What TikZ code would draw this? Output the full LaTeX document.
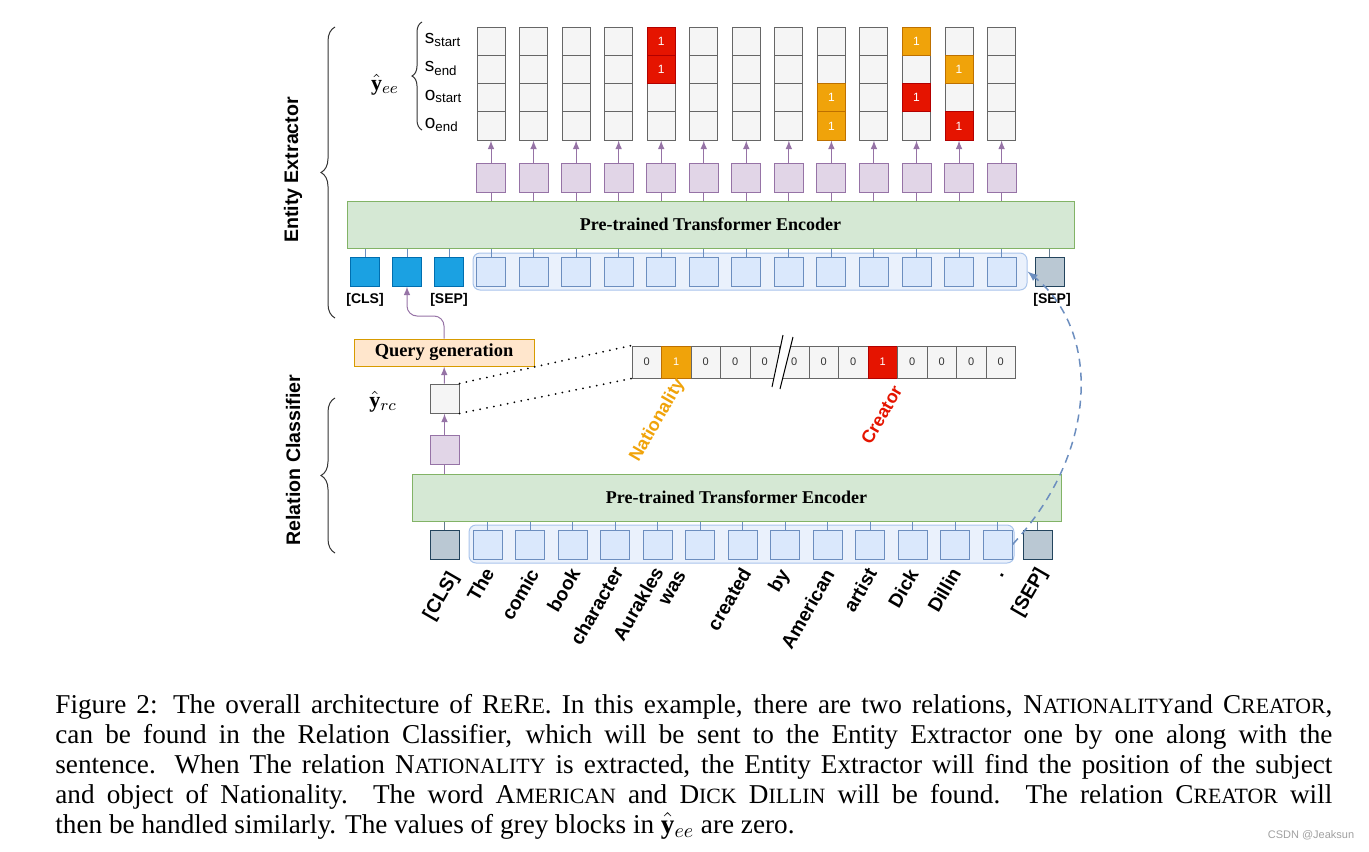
\documentclass[tikz,border=0pt]{standalone}
\usepackage{fontspec}
\setmainfont{Liberation Serif}
\setsansfont{Liberation Sans}
\usepackage{amsmath}
\usetikzlibrary{arrows,calc,decorations.pathreplacing,positioning}

\definecolor{cellfill}{HTML}{F5F5F5}
\definecolor{celledge}{HTML}{666666}
\definecolor{redfill}{HTML}{E51400}
\definecolor{rededge}{HTML}{B20000}
\definecolor{orfill}{HTML}{F0A30A}
\definecolor{oredge}{HTML}{BD7000}
\definecolor{hidfill}{HTML}{E1D5E7}
\definecolor{hidedge}{HTML}{9673A6}
\definecolor{tokfill}{HTML}{DAE8FC}
\definecolor{tokedge}{HTML}{6C8EBF}
\definecolor{qfill}{HTML}{1BA1E2}
\definecolor{qedge}{HTML}{006EAF}
\definecolor{sepfill}{HTML}{BAC8D3}
\definecolor{sepedge}{HTML}{23445D}
\definecolor{encfill}{HTML}{D5E8D4}
\definecolor{encedge}{HTML}{82B366}
\definecolor{grpfill}{HTML}{EAF1FC}
\definecolor{grpedge}{HTML}{A9C4EB}
\definecolor{qgfill}{HTML}{FFE6CC}
\definecolor{qgedge}{HTML}{D79B00}
\definecolor{zerocol}{HTML}{333333}
\definecolor{bracecol}{HTML}{333333}
\definecolor{wmcol}{HTML}{A0A0A0}

\newcommand{\sce}[1]{{\fontsize{10.9}{15}\selectfont #1}}

\tikzset{
  cell/.style={draw=celledge, fill=cellfill, line width=0.5pt, inner sep=0pt,
    minimum width=14pt, minimum height=14.1pt, text=white,
    font=\sffamily\fontsize{6}{7}\selectfont},
  redcell/.style={cell, draw=rededge, fill=redfill},
  orcell/.style={cell, draw=oredge, fill=orfill},
  hid/.style={draw=hidedge, fill=hidfill, line width=0.5pt, inner sep=0pt, minimum size=14.5pt},
  tok/.style={draw=tokedge, fill=tokfill, line width=0.5pt, inner sep=0pt, minimum size=14.5pt},
  qtok/.style={tok, draw=qedge, fill=qfill},
  septok/.style={tok, draw=sepedge, fill=sepfill},
  encoder/.style={draw=encedge, fill=encfill, line width=0.5pt, minimum height=23.5pt,
    font=\bfseries\fontsize{9}{10}\selectfont},
  group/.style={draw=grpedge, fill=grpfill, line width=0.5pt, rounded corners=3.5pt, inner sep=0pt},
  query/.style={draw=qgedge, fill=qgfill, line width=0.5pt, minimum width=90pt, minimum height=13.5pt,
    inner sep=0pt, font=\bfseries\fontsize{9.2}{10}\selectfont},
  barcell/.style={draw=celledge, fill=cellfill, line width=0.5pt, inner sep=0pt,
    minimum width=14.75pt, minimum height=16pt, text=zerocol,
    font=\sffamily\fontsize{5.5}{6}\selectfont},
  orbar/.style={barcell, draw=oredge, fill=orfill, text=white},
  redbar/.style={barcell, draw=rededge, fill=redfill, text=white},
  wordlab/.style={rotate=60, inner sep=0pt, font=\sffamily\bfseries\fontsize{9.6}{10}\selectfont},
  rellab/.style={wordlab, font=\sffamily\bfseries\fontsize{9}{10}\selectfont},
  sidelab/.style={rotate=90, inner sep=0pt, font=\sffamily\bfseries\fontsize{9.8}{11}\selectfont},
  smalllab/.style={inner sep=0pt, font=\sffamily\bfseries\fontsize{7}{8}\selectfont},
  rowlab/.style={anchor=west, inner sep=0pt, font=\sffamily\fontsize{9.5}{10}\selectfont},
  mathlab/.style={inner sep=0pt, font=\fontsize{11}{12}\selectfont},
  tokline/.style={draw=tokedge, line width=0.5pt},
  sepline/.style={draw=sepedge!70, line width=0.5pt},
  hidline/.style={draw=hidedge, line width=0.5pt},
  hidarrow/.style={draw=hidedge, line width=0.5pt, -latex},
  brace/.style={decorate, decoration={brace, amplitude=7pt}, draw=bracecol, line width=0.5pt},
  rowbrace/.style={decorate, decoration={brace, amplitude=5pt}, draw=bracecol, line width=0.5pt},
  jump/.style={draw=tokedge, line width=0.75pt, dash pattern=on 4pt off 3pt, -latex},
  dotline/.style={line width=1pt, dash pattern=on 0pt off 3.5pt, line cap=round},
}

\begin{document}
\begin{tikzpicture}[x=0.5pt,y=-0.5pt]
  \useasboundingbox (0,0) rectangle (1369,851);

  % entity extractor
  \node[encoder, minimum width=363.5pt] (encT) at (710.5,224.5) {Pre-trained Transformer Encoder};
  \node[group, minimum width=277pt, minimum height=18.5pt] (grpT) at (750,271.5) {};
  \foreach \i in {1,...,13} {
    \pgfmathsetmacro{\cx}{491+(\i-1)*42.55}
    \node[tok] (tt\i) at (\cx,271.5) {};
    \node[hid] (ht\i) at (\cx,177.5) {};
    \foreach \r/\ry in {1/41.1,2/69.4,3/97.6,4/125.9}
      \node[cell] (ee\i-\r) at (\cx,\ry) {};
    \draw[tokline] (tt\i) -- (tt\i |- encT.south);
    \draw[hidline] (ht\i) -- (ht\i |- encT.north);
    \draw[hidarrow] (ht\i) -- (ee\i-4);
  }
  \foreach \i/\r/\s in {5/1/redcell,5/2/redcell,9/3/orcell,9/4/orcell,11/1/orcell,11/3/redcell,12/2/orcell,12/4/redcell}
    \node[\s] (hit\i-\r) at (ee\i-\r) {1};

  \foreach \k/\cx in {1/365,2/407,3/449} {
    \node[qtok] (cb\k) at (\cx,271.5) {};
    \draw[tokline] (cb\k) -- (cb\k |- encT.south);
  }
  \node[septok] (sepT) at (1049.5,271.5) {};
  \draw[sepline] (sepT) -- (sepT |- encT.south);
  \node[smalllab] (lcls) at (365,300) {[CLS]};
  \node[smalllab] (lsep) at (449,300) {[SEP]};
  \node[smalllab] (lsepT) at (1052,300) {[SEP]};

  % output rows
  \draw[rowbrace] (422,130) -- (422,22);
  \node[mathlab] (yee) at (385,85) {$\hat{\mathbf{y}}_{ee}$};
  \node[rowlab] (rl1) at (424.5,40) {s\textsubscript{start}};
  \node[rowlab] (rl2) at (424.5,68.5) {s\textsubscript{end}};
  \node[rowlab] (rl3) at (424.5,96.5) {o\textsubscript{start}};
  \node[rowlab] (rl4) at (424.5,125) {o\textsubscript{end}};

  % relation classifier
  \node[encoder, minimum width=324.5pt] (encB) at (736.5,497.5) {Pre-trained Transformer Encoder};
  \node[group, minimum width=272.5pt, minimum height=19pt] (grpB) at (741.5,544) {};
  \node[septok] (bcls) at (444.5,544.5) {};
  \draw[sepline] (bcls) -- (bcls |- encB.south);
  \foreach \i in {1,...,13} {
    \node[tok] (bt\i) at ({487.5+(\i-1)*42.5},544.5) {};
    \draw[tokline] (bt\i) -- (bt\i |- encB.south);
  }
  \node[septok] (bsep) at (1037.5,544.5) {};
  \draw[sepline] (bsep) -- (bsep |- encB.south);

  \node[hid] (hrc) at (444.5,450) {};
  \node[cell, minimum width=14.5pt, minimum height=14.5pt] (yrc) at (444.5,398.5) {};
  \node[mathlab] (yrclab) at (383,402) {$\hat{\mathbf{y}}_{rc}$};
  \node[query] (qg) at (444,352.5) {Query generation};
  \draw[hidline] (hrc) -- (hrc |- encB.north);
  \draw[hidarrow] (hrc) -- (yrc);
  \draw[hidarrow] (yrc) -- (qg);
  \coordinate (qturn) at (407,316);
  \draw[hidarrow, rounded corners=5pt] (qg.north) |- (qturn) -- (cb2.south);

  % relation vector
  \foreach \k/\v/\s in {1/0/barcell,2/1/orbar,3/0/barcell,4/0/barcell,5/0/barcell,6/0/barcell,7/0/barcell,
      8/0/barcell,9/1/redbar,10/0/barcell,11/0/barcell,12/0/barcell,13/0/barcell}
    \node[\s] (rv\k) at ({646.75+(\k-1)*29.5},362) {\v};
  \fill[white] (783,335) -- (793,337) -- (780,389) -- (772,387) -- cycle;
  \draw[line width=0.5pt] (783,335) -- (772,387);
  \draw[line width=0.5pt] (793,337) -- (780,389);
  \draw[dotline] (yrc.north east) -- (rv1.north west);
  \draw[dotline] (yrc.south east) -- (rv1.south west);
  \node[rellab, text=orfill] (lnat) at (657.5,420.5) {Nationality};
  \node[rellab, text=redfill] (lcre) at (881.5,415) {Creator};

  % sentence
  \foreach \w/\x/\y [count=\n] in {[CLS]/441.5/596.5, The/480.5/584.5, comic/520/594.5, book/563.5/590,
      character/596.5/606, Aurakles/638/603.5, was/673/588, created/729/599, by/780/581,
      American/807.5/609, artist/860/590, Dick/903/588.5, Dillin/944/590, ./1002/575, [SEP]/1030/592.5}
    \node[wordlab] (word\n) at (\x,\y) {\w};

  \draw[jump] (bt13.east) .. controls (1100,450) and (1100,330) .. (grpT.east);

  % braces
  \draw[brace] (335,318) -- (335,27);
  \draw[brace] (335,553) -- (335,398);
  \node[sidelab] (lee) at (293,170) {Entity Extractor};
  \node[sidelab] (lrc) at (293,460) {Relation Classifier};

  % caption
  \node[anchor=base west, inner sep=0pt] (cap) at (55,713) {\parbox[t]{638.5pt}{%
    \fontsize{13.6}{15}\selectfont\setlength{\parindent}{0pt}%
    \makebox[\linewidth][s]{Figure 2: The overall architecture of R\sce{E}R\sce{E}. In this example, there are two relations, N\sce{ATIONALITY}and C\sce{REATOR},}\\
    \makebox[\linewidth][s]{can be found in the Relation Classifier, which will be sent to the Entity Extractor one by one along with the}\\
    \makebox[\linewidth][s]{sentence. When The relation N\sce{ATIONALITY} is extracted, the Entity Extractor will find the position of the subject}\\
    \makebox[\linewidth][s]{and object of Nationality. The word A\sce{MERICAN} and D\sce{ICK} D\sce{ILLIN} will be found. The relation C\sce{REATOR} will}\\
    then be handled similarly. The values of grey blocks in $\hat{\mathbf{y}}_{ee}$ are zero.}};
  \node[text=wmcol, font=\sffamily\fontsize{5.5}{6}\selectfont] (wmark) at (1311,835) {CSDN @Jeaksun};
\end{tikzpicture}
\end{document}
